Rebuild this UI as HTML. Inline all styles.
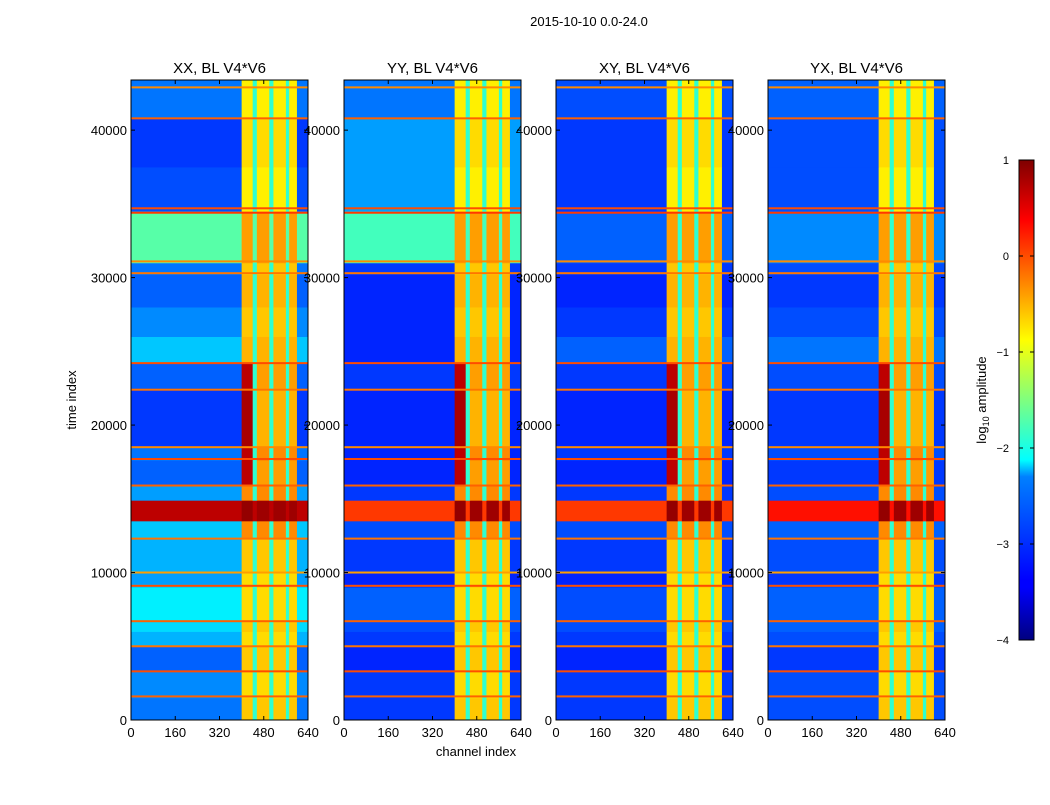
<!DOCTYPE html>
<html><head><meta charset="utf-8"><style>
body{margin:0;background:#fff;}
svg text{font-family:"Liberation Sans",sans-serif;}
</style></head><body>
<svg id="fig" width="1050" height="800" viewBox="0 0 1050 800" xmlns="http://www.w3.org/2000/svg">
<rect width="1050" height="800" fill="#fff"/>
<text x="589" y="26" font-size="13" text-anchor="middle">2015-10-10 0.0-24.0</text>
<text x="476" y="756" font-size="13" text-anchor="middle">channel index</text>
<text x="76" y="400" font-size="13" text-anchor="middle" transform="rotate(-90 76 400)">time index</text>
<g id="panels"></g>
<defs><linearGradient id="jet" x1="0" y1="1" x2="0" y2="0">
<stop offset="0" stop-color="#00007f"/><stop offset="0.11" stop-color="#0000ff"/><stop offset="0.125" stop-color="#0000ff"/>
<stop offset="0.34" stop-color="#0080ff"/><stop offset="0.375" stop-color="#00ffff"/><stop offset="0.5" stop-color="#7fff7f"/>
<stop offset="0.625" stop-color="#ffff00"/><stop offset="0.875" stop-color="#ff0000"/><stop offset="1" stop-color="#7f0000"/>
</linearGradient></defs>
<g>
<rect x="1019" y="160" width="15" height="480" fill="url(#jet)" stroke="#000" stroke-width="1"/>
<g id="cbticks"></g>
<text x="986" y="400" font-size="13" text-anchor="middle" transform="rotate(-90 986 400)">log<tspan font-size="9" dy="3">10</tspan><tspan dy="-3"> amplitude</tspan></text>
</g>
</svg>
<script>
const panelTitles = ["XX, BL V4*V6","YY, BL V4*V6","XY, BL V4*V6","YX, BL V4*V6"];
const bandEdges = [0,1500,3300,5000,6000,6700,9000,9200,10100,12300,13500,14900,15900,17600,18500,22500,24200,26000,28000,30200,31000,34500,37500,40800,43400];
const bgP1 = [-2.8,-2.7,-2.9,-2.5,-2.3,-2.2,-2.4,-2.6,-2.5,-2.4,0.7,-2.6,-2.9,-2.8,-3.1,-2.9,-2.4,-2.7,-2.9,-2.8,-1.7,-3.0,-3.1,-2.8];
const bgP2 = [-3.1,-3.1,-3.2,-3.1,-3.0,-2.9,-3.1,-3.2,-3.1,-3.0,0.1,-3.1,-3.2,-3.2,-3.2,-3.1,-3.2,-3.2,-3.2,-3.1,-1.8,-2.6,-2.6,-2.8];
const bgP3 = [-3.1,-3.1,-3.2,-3.1,-3.0,-3.0,-3.1,-3.2,-3.1,-3.0,0.1,-3.1,-3.2,-3.1,-3.2,-3.1,-2.9,-3.1,-3.2,-3.1,-2.9,-3.1,-3.1,-3.0];
const bgP4 = [-3.0,-3.0,-3.1,-3.0,-2.9,-2.9,-3.0,-3.1,-3.0,-2.9,0.3,-3.0,-3.1,-3.0,-3.1,-3.0,-2.8,-3.0,-3.1,-3.0,-2.7,-3.0,-3.0,-2.9];
const hiVals = [-0.6,-0.7,-0.6,-0.7,-0.6,-0.7,-0.6,-0.7,-0.6,-0.3,0.85,-0.3,-0.4,-0.3,-0.5,-0.4,-0.5,-0.6,-0.5,-0.6,-0.4,-0.8,-0.7,-0.8];
const redColVals = [-0.6,-0.7,-0.6,-0.7,-0.6,-0.7,-0.6,-0.7,-0.6,-0.3,0.9,-0.3,0.7,0.7,0.8,0.7,-0.5,-0.6,-0.5,-0.6,-0.4,-0.8,-0.7,-0.8];
const chanEdges = [0,400,440,455,500,515,560,572,600,640];
const chanType  = ["bg","red","gap","hi","gap","hi","gap","hi","edge"];
const gapVal = -1.9, edgeVal = -3.3;
const lineTimes = [1600,3300,5000,6700,9100,10000,12300,15900,17700,18500,22400,24200,30300,31100,34400,34700,40800,42900];
const lineVals  = [-0.1,0.0,-0.2,-0.1,0.0,-0.4,-0.2,-0.1,0.0,-0.3,-0.2,0.0,-0.2,-0.3,0.1,0.0,-0.1,-0.3];
const xTicks = [0,160,320,480,640];
const yTicks = [0,10000,20000,30000,40000];
const cbTicks = [1,0,-1,-2,-3,-4];
const panelLeft = [131,344,556,768];
const bgSets = [bgP1,bgP2,bgP3,bgP4];
const PW=177, PT=80, PB=720, TMAX=43400, VMIN=-4, VMAX=1;

function jet(v){
  let t=(v-VMIN)/(VMAX-VMIN); t=Math.max(0,Math.min(1,t));
  const c=x=>Math.round(255*Math.max(0,Math.min(1,1.5-Math.abs(x))));
  return `rgb(${c(4*t-3)},${c(4*t-2)},${c(4*t-1)})`;
}
const NS="http://www.w3.org/2000/svg";
function mk(tag,attrs,parent){const e=document.createElementNS(NS,tag);for(const k in attrs)e.setAttribute(k,attrs[k]);parent.appendChild(e);return e;}
const root=document.getElementById('panels');
panelLeft.forEach((L,p)=>{
  const xs=ch=>L+ch/640*PW, ys=t=>PB-t/TMAX*(PB-PT);
  const g=mk('g',{},root);
  
  
  const bg=bgSets[p];
  for(let b=0;b<bandEdges.length-1;b++){
    for(let c=0;c<chanType.length;c++){
      const ty=chanType[c];
      let v = ty==="bg"?bg[b]: ty==="red"?redColVals[b]: ty==="hi"?hiVals[b]: ty==="gap"?Math.max(gapVal,bg[b]): Math.max(edgeVal,bg[b]);
      const y1=ys(bandEdges[b+1]), y0=ys(bandEdges[b]);
      const r=mk('rect',{x:xs(chanEdges[c]).toFixed(2),y:y1.toFixed(2),width:(xs(chanEdges[c+1])-xs(chanEdges[c])+0.4).toFixed(2),height:(y0-y1+0.4).toFixed(2),fill:jet(v)},g);
      
      
    }
  }
  lineTimes.forEach((t,i)=>{
    const r=mk('rect',{x:L,y:(ys(t)-1).toFixed(2),width:PW,height:2,fill:jet(lineVals[i])},g);
    
    
  });
  mk('rect',{x:L,y:PT,width:PW,height:PB-PT,fill:'none',stroke:'#000','stroke-width':1},g);
  const tt=mk('text',{x:L+PW/2,y:PT-7,'font-size':15,'text-anchor':'middle'},g);
  tt.textContent=panelTitles[p];
  
  
  xTicks.forEach(v=>{
    const x=xs(v);
    mk('line',{x1:x,x2:x,y1:PB,y2:PB-4,stroke:'#000'},g);
    mk('line',{x1:x,x2:x,y1:PT,y2:PT+4,stroke:'#000'},g);
    const t=mk('text',{x:x,y:PB+17,'font-size':13,'text-anchor':'middle'},g);
    t.textContent=v;
    
    
  });
  yTicks.forEach(v=>{
    const y=ys(v);
    mk('line',{x1:L,x2:L+4,y1:y,y2:y,stroke:'#000'},g);
    mk('line',{x1:L+PW,x2:L+PW-4,y1:y,y2:y,stroke:'#000'},g);
    const t=mk('text',{x:L-4,y:y+5,'font-size':13,'text-anchor':'end'},g);
    t.textContent=v;
    
    
  });
});
const cb=document.getElementById('cbticks');
cbTicks.forEach(v=>{
  const y=160+(VMAX-v)/(VMAX-VMIN)*480;
  mk('line',{x1:1019,x2:1023,y1:y,y2:y,stroke:'#000'},cb);
  mk('line',{x1:1034,x2:1030,y1:y,y2:y,stroke:'#000'},cb);
  const t=mk('text',{x:1009,y:y+4,'font-size':11,'text-anchor':'end'},cb);
  t.textContent=v<0?'\u2212'+(-v):v;
  
  
});
</script>
</body></html>
